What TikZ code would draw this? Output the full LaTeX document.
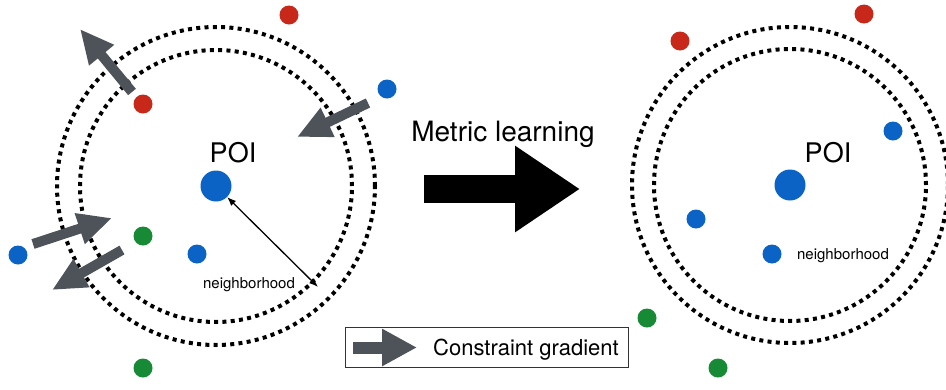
\documentclass[tikz,border=0pt]{standalone}
\usepackage{fontspec}
\setmainfont{TeX Gyre Heros}
\usetikzlibrary{arrows.meta}
\definecolor{dotred}{HTML}{C8281A}
\definecolor{dotblue}{HTML}{0B63C5}
\definecolor{dotgreen}{HTML}{168A34}
\definecolor{gradgray}{HTML}{4E535A}

\begin{document}
\begin{tikzpicture}[x=1pt,y=-1pt,
        ring/.style={line width=4pt, dash pattern=on 4pt off 4.3pt},
        smalldot/.style={circle, inner sep=0pt, minimum size=19pt},
        bigdot/.style={circle, inner sep=0pt, minimum size=31pt, fill=dotblue},
        grad/.style={draw=gradgray, line width=10pt, -{Triangle[length=34pt,width=30pt]}},
        nbh/.style={line width=1.3pt, {Latex[length=9pt,width=7pt]}-{Latex[length=9pt,width=7pt]}},
        lbl/.style={inner sep=0pt, anchor=base}]
                    \useasboundingbox (0,0) rectangle (946,389);

                    % left: before metric learning
                    \draw[ring] (216,186) circle[radius=159pt];
                    \draw[ring] (216,186) circle[radius=136pt];
                    \node[bigdot] (poiL) at (216,186) {};
                    \node[lbl] (poiLtxt) at (233,162) {\fontsize{27}{30}\selectfont POI};

                    \node[smalldot, fill=dotred] (rA) at (289,15) {};
                    \node[smalldot, fill=dotred] (rB) at (143,104) {};
                    \node[smalldot, fill=dotblue] (bA) at (387,89) {};
                    \node[smalldot, fill=dotgreen] (gA) at (143,236) {};
                    \node[smalldot, fill=dotblue] (bB) at (18,255) {};
                    \node[smalldot, fill=dotblue] (bC) at (197,254) {};
                    \node[smalldot, fill=dotgreen] (gB) at (143,368) {};

                    \coordinate (nbL) at (318,287);
                    \draw[nbh] (poiL) -- (nbL);
                    \node[lbl] (nbLtxt) at (249,288) {\fontsize{15}{17}\selectfont neighborhood};

                    % constraint gradients
                    \coordinate (g1s) at (132,92);  \coordinate (g1e) at (80,29);
                    \coordinate (g2s) at (368,103); \coordinate (g2e) at (297,137);
                    \coordinate (g3s) at (33,244);  \coordinate (g3e) at (112,218);
                    \coordinate (g4s) at (122,250); \coordinate (g4e) at (52,290);
                    \draw[grad] (g1s) -- (g1e);
                    \draw[grad] (g2s) -- (g2e);
                    \draw[grad] (g3s) -- (g3e);
                    \draw[grad] (g4s) -- (g4e);

                    % middle
                    \node[lbl] (mltxt) at (503,141) {\fontsize{28}{31}\selectfont Metric learning};
                    \coordinate (mlS) at (424,189);
                    \coordinate (mlE) at (580,189);
                    \draw[line width=28pt, -{Triangle[length=65pt,width=82pt]}] (mlS) -- (mlE);

                    % legend
                    \draw[line width=1pt, draw=black!80] (345,327) rectangle (628,367);
                    \coordinate (lgS) at (353,347.5);
                    \coordinate (lgE) at (417,347.5);
                    \draw[draw=gradgray, line width=12pt, -{Triangle[length=35pt,width=35pt]}] (lgS) -- (lgE);
                    \node[lbl, anchor=base west] (lgtxt) at (433,355) {\fontsize{22}{25}\selectfont Constraint gradient};

                    % right: after metric learning
                    \draw[ring] (790,185) circle[radius=158pt];
                    \draw[ring] (790,185) circle[radius=136pt];
                    \node[bigdot] (poiR) at (790,185) {};
                    \node[lbl] (poiRtxt) at (828,162) {\fontsize{27}{30}\selectfont POI};

                    \node[smalldot, fill=dotred] (rC) at (864,14) {};
                    \node[smalldot, fill=dotred] (rD) at (680,41) {};
                    \node[smalldot, fill=dotblue] (bD) at (893,131) {};
                    \node[smalldot, fill=dotblue] (bE) at (696,219) {};
                    \node[smalldot, fill=dotblue] (bF) at (772,254) {};
                    \node[lbl] (nbRtxt) at (843,259) {\fontsize{15}{17}\selectfont neighborhood};
                    \node[smalldot, fill=dotgreen] (gC) at (647,318) {};
                    \node[smalldot, fill=dotgreen] (gD) at (718,368) {};

                \end{tikzpicture}
\end{document}
